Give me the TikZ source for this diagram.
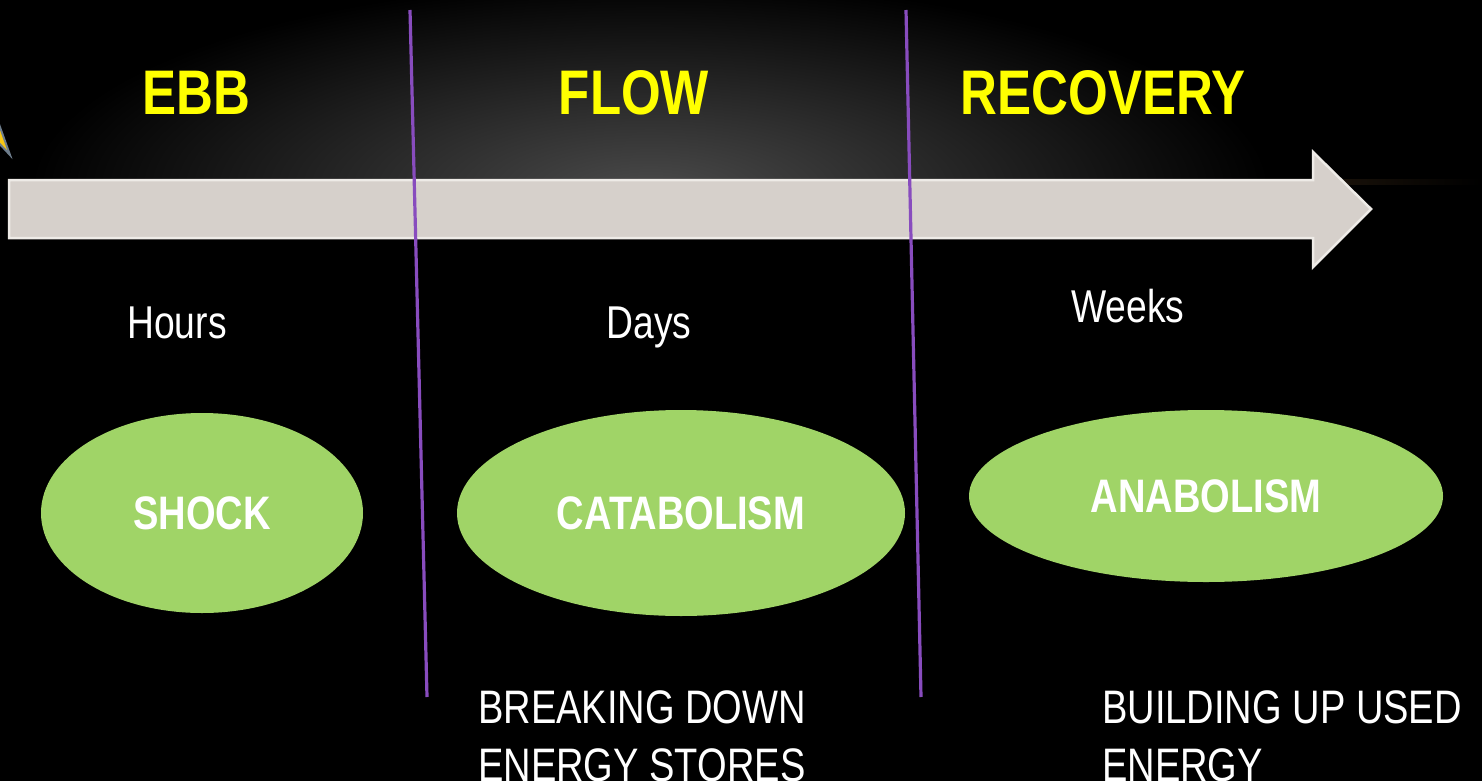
\documentclass[tikz,border=0pt]{standalone}
\usepackage{fontspec}
\setmainfont{Liberation Sans}[FakeStretch=0.81]
\usetikzlibrary{shapes.geometric}
\definecolor{phaseyellow}{RGB}{255,255,0}
\definecolor{blobgreen}{RGB}{160,212,103}
\definecolor{arrowfill}{RGB}{214,208,203}
\definecolor{arrowrim}{RGB}{238,235,231}
\definecolor{divider}{RGB}{136,76,190}
\definecolor{rimglow}{RGB}{125,88,48}
\definecolor{haze}{RGB}{74,74,74}
\tikzset{
% Phase headings, durations, green phase ellipses and notes below
phase title/.style={text=phaseyellow,font=\fontsize{63}{70}\selectfont\bfseries,anchor=base},
duration/.style={text=white,font=\fontsize{46}{52}\selectfont,anchor=base},
phase blob/.style={ellipse,fill=blobgreen,text=white,font=\fontsize{47}{52}\selectfont\bfseries,inner sep=0},
note/.style={text=white,font=\fontsize{47}{58}\selectfont,align=left,anchor=base west,inner sep=0}
}

\begin{document}
\begin{tikzpicture}[x=1pt,y=-1pt]
\useasboundingbox (0,0) rectangle (1482,781);
\fill[black] (0,0) rectangle (1482,781);

% haze over the timeline
\begin{scope}
\clip (0,0) rectangle (1482,180);
\shade[inner color=haze,outer color=black] (650,190) ellipse [x radius=620,y radius=210];
\end{scope}
\shade[left color=black,right color=black,middle color=rimglow] (0,179) rectangle (1482,184);

% timeline arrow
\draw[fill=arrowfill,draw=arrowrim,line width=2.5] (9,180) -- (1313,180) -- (1313,152)
  -- (1371,209) -- (1313,267) -- (1313,238) -- (9,238) -- cycle;

% corner sliver
\draw[fill={rgb,255:red,250;green,200;blue,20},draw={rgb,255:red,110;green,125;blue,140},line width=2]
  (-4,116) -- (10,155) -- (-4,140) -- cycle;

% phase dividers
\coordinate (d1 top) at (410,10);
\coordinate (d1 bottom) at (427,697);
\coordinate (d2 top) at (906,10);
\coordinate (d2 bottom) at (921,697);
\draw[divider,line width=3.2] (d1 top) -- (d1 bottom);
\draw[divider,line width=3.2] (d2 top) -- (d2 bottom);

\node[phase title] (ebb) at (196,115) {EBB};
\node[phase title] (flow) at (634,115) {FLOW};
\node[phase title] (recovery) at (1103,115) {RECOVERY};

\node[duration] (hours) at (177,338) {Hours};
\node[duration] (days) at (649,338) {Days};
\node[duration] (weeks) at (1128,322) {Weeks};

\node[phase blob,minimum width=322,minimum height=200] (shock) at (202,513) {SHOCK};
\node[phase blob,minimum width=448,minimum height=206] (catabolism) at (681,513) {CATABOLISM};
\node[phase blob,minimum width=474,minimum height=172] (anabolism) at (1206,496) {ANABOLISM};

% base of a two-line note sits on its second line
\node[note] (breakdown) at (478,781) {BREAKING DOWN\\ENERGY STORES};
\node[note] (buildup) at (1102,781) {BUILDING UP USED\\ENERGY};
\end{tikzpicture}
\end{document}
